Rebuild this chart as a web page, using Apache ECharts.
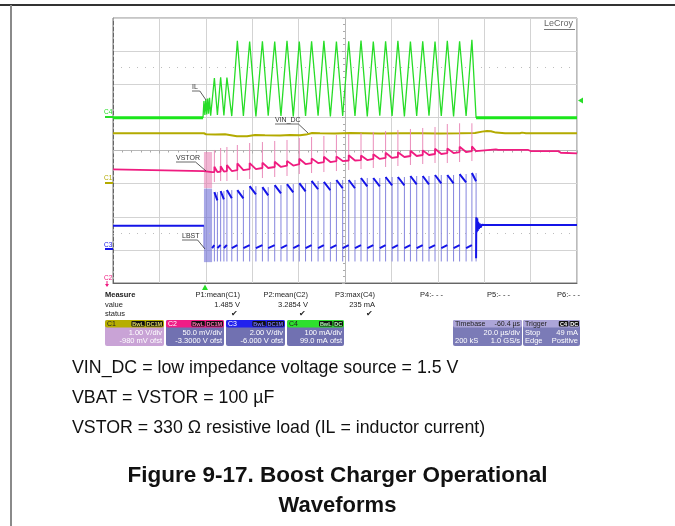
<!DOCTYPE html>
<html><head><meta charset="utf-8">
<script src="https://cdn.jsdelivr.net/npm/echarts@6/dist/echarts.min.js"></script>
<style>html,body{margin:0;padding:0;background:#fff}#c{width:675px;height:526px}</style>
</head><body><div id="c"></div>
<script>
// ---- time axis: 20 µs/div, 10 divisions (µs from left edge) ----
const timeMin = 0, timeMax = 200, timeDiv = 20;

// ---- switching cycles: LBST rising edge (IL peak) and falling edge (IL valley), µs ----
const cycOffT = [43.7, 46.4, 49.1, 53.6, 58.9, 64.4, 69.7, 75.0, 80.3, 85.6, 90.9, 96.3, 101.6, 106.9, 112.2, 117.5, 122.8, 128.2, 133.5, 138.8, 144.1, 149.4, 154.7];
const cycOnT  = [45.0, 47.8, 51.2, 56.2, 61.6, 66.9, 72.4, 77.7, 83.0, 88.4, 93.7, 99.0, 104.3, 109.6, 115.0, 120.3, 125.6, 130.9, 136.2, 141.5, 146.8, 152.2, 156.5];

// ---- C4: IL inductor current (mA) ----
const ilStartT = [0, 38.8, 39.2, 39.6, 40.0, 40.4, 40.8, 41.2, 41.6, 42.1];
const ilStartV = [0, 0, 50, 8, 55, 10, 58, 12, 60, 6];
const ilPeak   = [120, 122, 121, 232, 230, 231, 230, 232, 230, 231, 232, 230, 231, 233, 230, 231, 232, 230, 231, 230, 232, 231, 235];
const ilValley = [8, 7, 5, 5, 4, 6, 5, 4, 5, 6, 4, 5, 5, 4, 6, 5, 4, 5, 6, 5, 4, 5, 0];
const ilEndT = [200];
const ilEndV = [0];

// ---- C1: VIN_DC (V) ----
const vinT = [0, 39.2, 40.1, 44.0, 48.3, 53.4, 57.8, 61.2, 65.5, 72.0, 76.3, 80.6, 83.2, 85.8, 89.2, 95.7, 102.2, 108.6, 115.1, 123.7, 132.3, 140.9, 149.6, 156.0, 159.1, 161.2, 162.9, 165.1, 169.0, 175.4, 176.3, 178.0, 200];
const vinV = [1.50, 1.50, 1.47, 1.46, 1.47, 1.41, 1.41, 1.45, 1.44, 1.43, 1.45, 1.44, 1.46, 1.51, 1.50, 1.49, 1.51, 1.50, 1.49, 1.50, 1.50, 1.49, 1.50, 1.51, 1.55, 1.57, 1.56, 1.52, 1.50, 1.50, 1.52, 1.50, 1.50];

// ---- C2: VSTOR (V) ----
const vstorPreT = [0, 39.2, 42.7];
const vstorPreV = [3.2716, 3.2690, 3.2675];
const vstorBase = [3.2675, 3.2683, 3.2690, 3.2705, 3.2720, 3.2736, 3.2751, 3.2773, 3.2796, 3.2811, 3.2826, 3.2841, 3.2849, 3.2856, 3.2872, 3.2887, 3.2902, 3.2917, 3.2932, 3.2947, 3.2962, 3.2977, 3.2992];
const vstorHook = [0.008, 0.008, 0.009, 0.010, 0.009, 0.008, 0.008, 0.007, 0.008, 0.007, 0.008, 0.007, 0.008, 0.007, 0.007, 0.008, 0.007, 0.008, 0.007, 0.008, 0.007, 0.008, 0.007];
const vstorSpikeTop = [3.3008, 3.3038, 3.3053, 3.3083, 3.3113, 3.3128, 3.3144, 3.3159, 3.3189, 3.3204, 3.3219, 3.3234, 3.3249, 3.3264, 3.3280, 3.3295, 3.3310, 3.3325, 3.3340, 3.3355, 3.3400, 3.3411, 3.3411];
const vstorSpikeBot = [3.2524, 3.2539, 3.2539, 3.2554, 3.2569, 3.2584, 3.2600, 3.2615, 3.2645, 3.2660, 3.2675, 3.2690, 3.2705, 3.2720, 3.2736, 3.2751, 3.2766, 3.2781, 3.2796, 3.2811, 3.2811, 3.2826, 3.2841];
const vstorPostT = [157.0, 165.0, 166.0, 179.0, 180.0, 192.0, 193.0, 200];
const vstorPostV = [3.3018, 3.3018, 3.3008, 3.3008, 3.2992, 3.2992, 3.2966, 3.2958];
const vstorBurst = [[39.2, 3.2977], [42.7, 3.2433]];

// ---- C3: LBST switch node (V) ----
const lbstPreT = [0, 39.2];
const lbstPreV = [1.46, 1.46];
const lbstHookTop = [3.49, 3.55, 3.61, 3.61, 3.85, 3.79, 3.91, 3.97, 4.03, 4.16, 4.10, 4.22, 4.22, 4.34, 4.34, 4.40, 4.40, 4.46, 4.46, 4.52, 4.52, 4.58, 4.64];
const lbstHookEnd = [2.99, 3.05, 3.11, 3.11, 3.35, 3.29, 3.41, 3.47, 3.53, 3.66, 3.60, 3.72, 3.72, 3.84, 3.84, 3.90, 3.90, 3.96, 3.96, 4.02, 4.02, 4.08, 4.14];
const lbstLowStart = 0.11, lbstLowEnd = 0.29, lbstUnder = -0.70;
const lbstRingT = [156.6, 156.8, 157.0, 157.2, 157.4, 157.7, 158.0, 158.4, 159.0, 160.0, 200];
const lbstRingV = [1.97, 1.06, 1.90, 1.15, 1.70, 1.25, 1.60, 1.35, 1.52, 1.50, 1.50];
const lbstBurst = [[39.2, 3.70], [42.7, -0.74]];

// ---- channel vertical settings (value at bottom / top of 8-division screen) ----
const c4Range = [-499, 301];   // 100 mA/div, 99.0 mA ofst
const c1Range = [-3.02, 4.98]; // 1.00 V/div, -980 mV ofst
const c2Range = [3.1, 3.5];    // 50.0 mV/div, -3.3000 V ofst
const c3Range = [-2, 14];      // 2.00 V/div, -6.000 V ofst

// ---------------- build series data ----------------
const GAP = '-';
function zip(t, v) { return t.map((x, i) => [x, v[i]]); }

const ilData = zip(ilStartT, ilStartV);
cycOffT.forEach((t, i) => { ilData.push([t, ilPeak[i]]); ilData.push([cycOnT[i], ilValley[i]]); });
ilData.push([ilEndT[0], ilEndV[0]]);
const ilBase = [[ilStartT[0], ilStartV[0]], [ilStartT[1], ilStartV[1]], [ilStartT[1], GAP],
                [cycOnT[cycOnT.length - 1], 0], [ilEndT[0], ilEndV[0]]];

const vstorMain = zip(vstorPreT, vstorPreV);
const vstorEdge = [];
cycOffT.forEach((t, i) => {
  vstorMain.push([t, vstorBase[i]]);
  vstorMain.push([t, vstorBase[i] + vstorHook[i]]);
  vstorMain.push([cycOnT[i], vstorBase[i]]);
  vstorEdge.push([t, vstorSpikeBot[i]], [t, vstorSpikeTop[i]], [t, GAP]);
});
zip(vstorPostT, vstorPostV).forEach(p => vstorMain.push(p));

const lbstMain = zip(lbstPreT, lbstPreV);
lbstMain.push([lbstPreT[1], GAP]);
lbstMain.push([lbstBurst[1][0], lbstLowStart]);
const lbstEdge = [[lbstPreT[1], lbstPreV[1]], [lbstPreT[1], lbstLowStart], [lbstPreT[1], GAP]];
cycOffT.forEach((t, i) => {
  lbstMain.push([t, lbstLowEnd], [t, GAP]);
  lbstMain.push([t, lbstHookTop[i]], [cycOnT[i], lbstHookEnd[i]], [cycOnT[i], GAP]);
  if (i < cycOffT.length - 1) lbstMain.push([cycOnT[i], lbstLowStart]);
  lbstEdge.push([t, lbstUnder], [t, lbstHookTop[i]], [t, GAP]);
  lbstEdge.push([cycOnT[i], lbstHookTop[i]], [cycOnT[i], lbstUnder], [cycOnT[i], GAP]);
});
lbstMain.push([cycOnT[cycOnT.length - 1], lbstUnder + 0.2]);
zip(lbstRingT, lbstRingV).forEach(p => lbstMain.push(p));

// ---------------- colours ----------------
const GREEN = '#27dd27', OLIVE = '#b3aa00', PINK = '#ef1c80', PINK_L = '#ea8cba', BLUE = '#1414e8', BLUE_L = '#8585de';
const FONT = 'Liberation Sans, Arial, sans-serif';

// ---------------- graphic helpers ----------------
const G = [];
function txt(x, y, s, o) {
  o = o || {};
  G.push({ type: 'text', x: x, y: y, silent: true, z: 100,
    style: { text: s, fill: o.fill || '#222', font: (o.bold ? 'bold ' : '') + (o.size || 7.5) + 'px ' + FONT,
      align: o.align || 'left', textAlign: o.align || 'left', verticalAlign: 'middle', textVerticalAlign: 'middle' } });
}
function ln(x1, y1, x2, y2, c, w) {
  G.push({ type: 'line', silent: true, z: 100, shape: { x1: x1, y1: y1, x2: x2, y2: y2 }, style: { stroke: c, lineWidth: w || 1 } });
}
function rect(x, y, w, h, c, r) {
  G.push({ type: 'rect', silent: true, z: 90, shape: { x: x, y: y, width: w, height: h, r: r || 0 }, style: { fill: c } });
}
function poly(pts, c) {
  G.push({ type: 'polygon', silent: true, z: 100, shape: { points: pts }, style: { fill: c } });
}

// frame of the page
ln(0, 5, 675, 5, '#333', 2);
ln(11, 5, 11, 526, '#8a8a8a', 2);
ln(113, 18, 577, 18, '#d0d0d0', 1);

// LeCroy logo
txt(544, 24, 'LeCroy', { size: 9, fill: '#666' });
ln(544, 29.5, 575, 29.5, '#777', 1);

// channel ground markers
ln(105, 117, 113, 117, GREEN, 2); txt(104, 112, 'C4', { size: 6.5, fill: GREEN });
ln(105, 183, 113, 183, OLIVE, 2); txt(104, 178, 'C1', { size: 6.5, fill: OLIVE });
ln(105, 249, 113, 249, BLUE, 2); txt(104, 245, 'C3', { size: 6.5, fill: BLUE });
txt(104, 278, 'C2', { size: 6.5, fill: PINK }); ln(107, 281, 107, 286, PINK, 1); poly([[105, 284], [109, 284], [107, 287]], PINK);

// trigger markers
poly([[578, 100.5], [583, 97.5], [583, 103.5]], GREEN);
poly([[205, 284.5], [202, 290], [208, 290]], GREEN);

// trace annotations
function ann(x, y, s, x2, y2) {
  txt(x, y, s, { size: 7, fill: '#333' });
  const w = s.length * 3.9;
  ln(x, y + 4, x + w, y + 4, '#444', 0.8);
  ln(x + w, y + 4, x2, y2, '#333', 0.8);
}
ann(192, 87, 'IL', 206, 100);
ann(275, 120, 'VIN_DC', 308, 133);
ann(176, 158, 'VSTOR', 206, 171);
ann(182, 236, 'LBST', 205, 249);

// measurement table
txt(105, 295, 'Measure', { bold: true });
txt(105, 304.5, 'value');
txt(105, 314, 'status');
const mx = [240, 308, 375, 443, 510, 580];
const mName = ['P1:mean(C1)', 'P2:mean(C2)', 'P3:max(C4)', 'P4:- - -', 'P5:- - -', 'P6:- - -'];
const mVal = ['1.485 V', '3.2854 V', '235 mA', '', '', ''];
const mStat = ['\u2714', '\u2714', '\u2714', '', '', ''];
mx.forEach((x, i) => {
  txt(x, 295, mName[i], { align: 'right' });
  if (mVal[i]) txt(x, 304.5, mVal[i], { align: 'right' });
  if (mStat[i]) txt(x - 2, 314, mStat[i], { align: 'right', size: 8 });
});

// channel boxes
function badge(xr, s, c) {
  const w = s.length * 3.8 + 2;
  rect(xr - w, 321, w, 5.5, '#111', 1);
  txt(xr - w / 2, 324, s, { size: 5.5, fill: c, align: 'center', bold: true });
  return xr - w - 1;
}
function chBox(x1, x2, head, body, label, labelColor, badges, badgeColor, l1, l2) {
  rect(x1, 320, x2 - x1, 26, body, 2);
  rect(x1, 320, x2 - x1, 7.5, head, 2);
  txt(x1 + 2, 324, label, { size: 7, fill: labelColor });
  let xr = x2 - 1;
  for (let i = badges.length - 1; i >= 0; i--) xr = badge(xr, badges[i], badgeColor);
  txt(x2 - 2, 332.5, l1, { align: 'right', fill: '#fff' });
  txt(x2 - 2, 341, l2, { align: 'right', fill: '#fff' });
}
chBox(105, 164, '#b6ae00', '#c9a3d6', 'C1', '#222', ['BwL', 'DC1M'], '#e0da60', '1.00 V/div', '-980 mV ofst');
chBox(166, 224, '#f01c86', '#7171b1', 'C2', '#fff', ['BwL', 'DC1M'], '#ff70b0', '50.0 mV/div', '-3.3000 V ofst');
chBox(226, 285, '#2222ee', '#7171b1', 'C3', '#fff', ['BwL', 'DC1M'], '#7070ff', '2.00 V/div', '-6.000 V ofst');
chBox(287, 344, '#2ee02e', '#7171b1', 'C4', '#222', ['BwL', 'DC'], '#b0ffb0', '100 mA/div', '99.0 mA ofst');

// timebase / trigger boxes
rect(453, 320, 69, 26, '#7b7bb7', 2); rect(453, 320, 69, 7.5, '#aca5d8', 2);
txt(455, 324, 'Timebase', { size: 7 }); txt(520, 324, '-60.4 \u00b5s', { size: 7, align: 'right' });
txt(520, 332.5, '20.0 \u00b5s/div', { align: 'right', fill: '#fff' });
txt(455, 341, '200 kS', { fill: '#fff' }); txt(520, 341, '1.0 GS/s', { align: 'right', fill: '#fff' });
rect(523, 320, 57, 26, '#7b7bb7', 2); rect(523, 320, 57, 7.5, '#aca5d8', 2);
txt(525, 324, 'Trigger', { size: 7 });
let tx = badge(579, 'DC', '#fff'); badge(tx, 'C4', '#fff');
txt(525, 332.5, 'Stop', { fill: '#fff' }); txt(578, 332.5, '49 mA', { align: 'right', fill: '#fff' });
txt(525, 341, 'Edge', { fill: '#fff' }); txt(578, 341, 'Positive', { align: 'right', fill: '#fff' });

// caption text
const notes = ['VIN_DC = low impedance voltage source = 1.5 V', 'VBAT = VSTOR = 100 \u00b5F', 'VSTOR = 330 \u03a9 resistive load (IL = inductor current)'];
const noteY = [368, 398.5, 428.5];
notes.forEach((s, i) => txt(72, noteY[i], s, { size: 17.8, fill: '#111' }));
txt(337.5, 476, 'Figure 9-17. Boost Charger Operational', { size: 22.5, bold: true, fill: '#111', align: 'center' });
txt(337.5, 506, 'Waveforms', { size: 22, bold: true, fill: '#111', align: 'center' });

// ---------------- chart ----------------
const chart = echarts.init(document.getElementById('c'), null, { renderer: 'canvas' });
const hidden = (r) => ({ type: 'value', min: r[0], max: r[1], show: false, gridIndex: 0 });
chart.setOption({
  animation: false,
  backgroundColor: '#fff',
  grid: { left: 113, top: 18, width: 464, height: 265, show: true, borderColor: '#777', borderWidth: 1, backgroundColor: '#fff' },
  xAxis: [
    { type: 'value', min: timeMin, max: timeMax, interval: timeDiv,
      axisLine: { show: true, onZero: false, lineStyle: { color: '#666' } }, axisTick: { show: false }, axisLabel: { show: false },
      splitLine: { show: true, lineStyle: { color: '#d3d3d3', width: 1 } } },
    { type: 'value', min: timeMin, max: timeMax, interval: timeDiv, position: 'bottom', offset: -132.5,
      axisLine: { show: true, onZero: false, lineStyle: { color: '#b8b8b8' } },
      axisTick: { show: true, length: 3, lineStyle: { color: '#aaa' } },
      minorTick: { show: true, splitNumber: 5, length: 2, lineStyle: { color: '#aaa' } },
      axisLabel: { show: false }, splitLine: { show: false } }
  ],
  yAxis: [
    { type: 'value', min: -4, max: 4, interval: 1,
      axisLine: { show: true, onZero: false, lineStyle: { color: '#666', type: 'dashed' } }, axisTick: { show: false }, axisLabel: { show: false },
      splitLine: { show: true, lineStyle: { color: '#d3d3d3', width: 1 } } },
    { type: 'value', min: -4, max: 4, interval: 1, position: 'left', offset: -232,
      axisLine: { show: true, onZero: false, lineStyle: { color: '#b8b8b8' } },
      axisTick: { show: true, length: 3, lineStyle: { color: '#aaa' } },
      minorTick: { show: true, splitNumber: 5, length: 2, lineStyle: { color: '#aaa' } },
      axisLabel: { show: false }, splitLine: { show: false } },
    hidden(c4Range), hidden(c1Range), hidden(c2Range), hidden(c3Range)
  ],
  graphic: { elements: G },
  series: [
    { type: 'line', yAxisIndex: 0, data: [], symbol: 'none', silent: true,
      markLine: { silent: true, symbol: 'none', label: { show: false },
        lineStyle: { color: '#bdbdbd', type: [1, 7], width: 1 }, data: [{ yAxis: 2.5 }, { yAxis: -2.5 }] } },
    { name: 'VIN_DC', type: 'line', yAxisIndex: 3, data: zip(vinT, vinV), symbol: 'none', z: 3,
      lineStyle: { color: OLIVE, width: 2 } },
    { name: 'VSTOR spikes', type: 'line', yAxisIndex: 4, data: vstorEdge, symbol: 'none', z: 3,
      lineStyle: { color: PINK_L, width: 1 },
      markArea: { silent: true, itemStyle: { color: 'rgba(232,120,175,0.55)' }, data: [[{ coord: vstorBurst[0] }, { coord: vstorBurst[1] }]] } },
    { name: 'VSTOR', type: 'line', yAxisIndex: 4, data: vstorMain, symbol: 'none', z: 4,
      lineStyle: { color: PINK, width: 1.8 } },
    { name: 'LBST edges', type: 'line', yAxisIndex: 5, data: lbstEdge, symbol: 'none', z: 5,
      lineStyle: { color: BLUE_L, width: 1 },
      markArea: { silent: true, itemStyle: { color: 'rgba(110,110,215,0.6)' }, data: [[{ coord: lbstBurst[0] }, { coord: lbstBurst[1] }]] } },
    { name: 'LBST', type: 'line', yAxisIndex: 5, data: lbstMain, symbol: 'none', z: 6,
      lineStyle: { color: BLUE, width: 2 } },
    { name: 'IL', type: 'line', yAxisIndex: 2, data: ilData, symbol: 'none', z: 7,
      lineStyle: { color: GREEN, width: 1.3 } },
    { name: 'IL base', type: 'line', yAxisIndex: 2, data: ilBase, symbol: 'none', z: 7,
      lineStyle: { color: '#1be61b', width: 3 } }
  ]
});
</script>
</body></html>
